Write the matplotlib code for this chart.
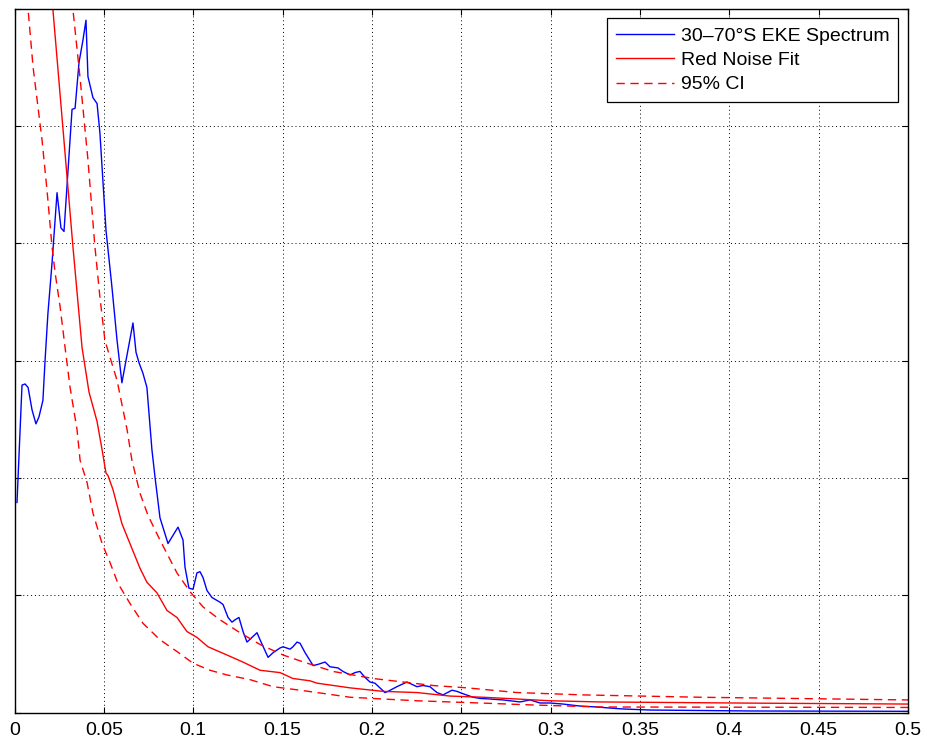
import matplotlib
matplotlib.use("Agg")
import matplotlib.pyplot as plt
import numpy as np

plt.rcParams['font.family'] = ['Liberation Sans', 'DejaVu Sans']

# 30-70S EKE spectrum (frequency, power)
spec_f = [0.0014, 0.0042, 0.0059, 0.0076, 0.0098, 0.0120, 0.0137, 0.0159, 0.0171, 0.0187,
          0.0210, 0.0238, 0.0260, 0.0277, 0.0322, 0.0339, 0.0361, 0.0383, 0.0400, 0.0411,
          0.0439, 0.0462, 0.0478, 0.0512, 0.0545, 0.0574, 0.0601, 0.0624, 0.0663, 0.0680,
          0.0697, 0.0719, 0.0741, 0.0769, 0.0786, 0.0814, 0.0859, 0.0915, 0.0943, 0.0954,
          0.0976, 0.0999, 0.1021, 0.1038, 0.1055, 0.1077, 0.1105, 0.1150, 0.1167, 0.1195,
          0.1217, 0.1234, 0.1256, 0.1279, 0.1301, 0.1329, 0.1357, 0.1374, 0.1419, 0.1447,
          0.1486, 0.1503, 0.1542, 0.1558, 0.1581, 0.1598, 0.1626, 0.1671, 0.1698, 0.1738,
          0.1765, 0.1810, 0.1838, 0.1878, 0.1905, 0.1933, 0.1961, 0.1989, 0.2017, 0.2045,
          0.2073, 0.2090, 0.2140, 0.2196, 0.2224, 0.2252, 0.2286, 0.2325, 0.2364, 0.2398,
          0.2448, 0.2476, 0.2510, 0.2566, 0.2605, 0.2661, 0.2734, 0.2829, 0.2885, 0.2941,
          0.2997, 0.3069, 0.3164, 0.3260, 0.3332, 0.3405, 0.3556, 0.4116, 0.5000]
spec_p = [1.79, 2.79, 2.80, 2.77, 2.58, 2.46, 2.52, 2.66, 3.00, 3.40,
          3.83, 4.43, 4.13, 4.10, 5.14, 5.15, 5.54, 5.73, 5.90, 5.42,
          5.24, 5.19, 4.94, 4.11, 3.63, 3.17, 2.81, 3.00, 3.32, 3.07,
          2.98, 2.89, 2.77, 2.24, 2.01, 1.66, 1.44, 1.58, 1.47, 1.24,
          1.06, 1.05, 1.19, 1.20, 1.15, 1.04, 0.98, 0.94, 0.92, 0.81,
          0.77, 0.79, 0.81, 0.69, 0.60, 0.64, 0.68, 0.62, 0.47, 0.51,
          0.55, 0.56, 0.54, 0.56, 0.60, 0.59, 0.51, 0.40, 0.41, 0.43,
          0.39, 0.38, 0.35, 0.32, 0.34, 0.35, 0.30, 0.26, 0.25, 0.21,
          0.17, 0.18, 0.22, 0.26, 0.24, 0.22, 0.23, 0.22, 0.17, 0.15,
          0.19, 0.18, 0.16, 0.13, 0.12, 0.115, 0.107, 0.09, 0.107, 0.081,
          0.081, 0.072, 0.055, 0.047, 0.038, 0.030, 0.021, 0.013, 0.01]

# red noise fit
fit_f = [0.0017, 0.0215, 0.0327, 0.0378, 0.0417, 0.0462, 0.0490, 0.0512, 0.0523, 0.0551,
         0.0601, 0.0646, 0.0702, 0.0741, 0.0797, 0.0853, 0.0909, 0.0965, 0.1021, 0.1083,
         0.1189, 0.1278, 0.1374, 0.1486, 0.1558, 0.1654, 0.1693, 0.1878, 0.2062, 0.2252,
         0.2437, 0.2622, 0.2812, 0.2997, 0.3276, 0.4116, 0.5000]
fit_p = [9.5, 5.99, 3.97, 3.11, 2.73, 2.48, 2.24, 2.04, 2.02, 1.90,
         1.61, 1.44, 1.23, 1.11, 1.02, 0.87, 0.81, 0.69, 0.64, 0.56,
         0.49, 0.43, 0.36, 0.34, 0.29, 0.27, 0.25, 0.21, 0.18, 0.17,
         0.14, 0.13, 0.115, 0.10, 0.09, 0.08, 0.072]

# 95% confidence bounds
up_f = [0.0250, 0.0327, 0.0366, 0.0411, 0.0450, 0.0478, 0.0506, 0.0574, 0.0630, 0.0657,
        0.0702, 0.0747, 0.0814, 0.0909, 0.0982, 0.1055, 0.1150, 0.1262, 0.1374, 0.1503,
        0.1598, 0.1782, 0.2006, 0.2118, 0.2342, 0.2532, 0.2812, 0.3181, 0.3836, 0.5000]
up_p = [9.0, 5.99, 5.42, 4.71, 3.97, 3.54, 3.17, 2.83, 2.41, 2.15,
        1.87, 1.68, 1.47, 1.19, 1.03, 0.90, 0.79, 0.68, 0.58, 0.49,
        0.44, 0.35, 0.29, 0.27, 0.23, 0.21, 0.17, 0.15, 0.13, 0.107]

lo_f = [0.0017, 0.0076, 0.0104, 0.0154, 0.0182, 0.0210, 0.0227, 0.0255, 0.0283, 0.0311,
        0.0350, 0.0367, 0.0406, 0.0439, 0.0490, 0.0534, 0.0579, 0.0646, 0.0719, 0.0814,
        0.0909, 0.0999, 0.1094, 0.1189, 0.1318, 0.1447, 0.1598, 0.1693, 0.1878, 0.2062,
        0.2252, 0.2437, 0.2622, 0.2902, 0.3276, 0.5000]
lo_p = [7.2, 5.99, 5.50, 4.88, 4.45, 3.97, 3.75, 3.46, 3.11, 2.77,
        2.41, 2.15, 1.96, 1.70, 1.44, 1.28, 1.10, 0.93, 0.76, 0.62,
        0.52, 0.42, 0.36, 0.32, 0.28, 0.22, 0.19, 0.17, 0.13, 0.115,
        0.10, 0.09, 0.08, 0.064, 0.047, 0.043]

fig = plt.figure(figsize=(9.27, 7.45), dpi=100)
ax = fig.add_axes([14.5 / 927, 32.5 / 745, 893.5 / 927, 704 / 745])

ax.plot(spec_f, spec_p, color='#0000ff', lw=1.0, label='30\u201370\u00b0S EKE Spectrum')
ax.plot(fit_f, fit_p, color='#ff0000', lw=1.0, label='Red Noise Fit')
ax.plot(up_f, up_p, color='#ff0000', lw=1.0, ls=(0, (6, 4)), label='95% CI')
ax.plot(lo_f, lo_p, color='#ff0000', lw=1.0, ls=(0, (6, 4)))

ax.set_xlim(0, 0.5)
ax.set_ylim(0, 6)
ax.set_xticks(np.arange(0, 0.51, 0.05))
ax.set_xticklabels(['0', '0.05', '0.1', '0.15', '0.2', '0.25', '0.3', '0.35', '0.4', '0.45', '0.5'])
ax.set_yticks(np.arange(0, 7, 1))
ax.set_yticklabels([])
ax.tick_params(direction='in', length=4, width=0.8, top=True, right=True, labelsize=14, pad=7)
ax.grid(True, color='black', ls=(0, (1, 3)), lw=0.7)
for s in ax.spines.values():
    s.set_linewidth(1.0)

leg = ax.legend(loc='upper right', fontsize=14, fancybox=False, framealpha=1,
                edgecolor='black', handlelength=3.0, handletextpad=0.35,
                labelspacing=0.35, borderpad=0.45, borderaxespad=0.5)
leg.get_frame().set_linewidth(0.9)

fig.savefig('out.png', dpi=100)
